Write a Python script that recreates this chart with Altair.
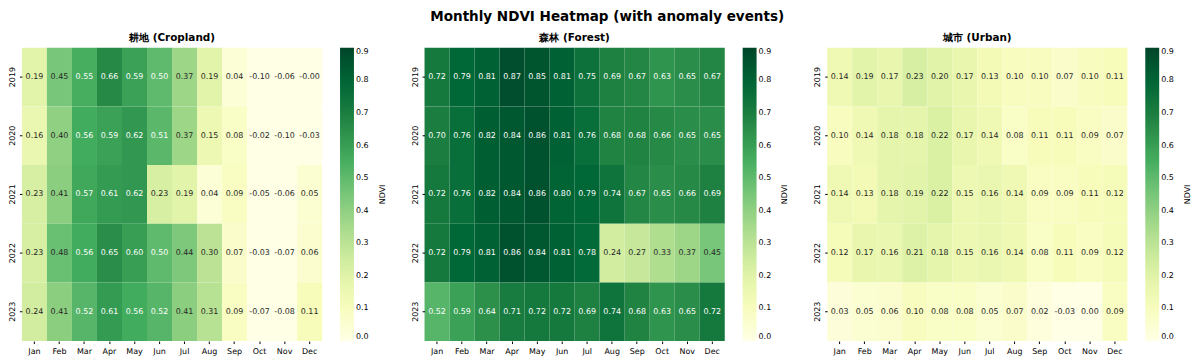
import altair as alt
import pandas as pd

months = ["Jan", "Feb", "Mar", "Apr", "May", "Jun", "Jul", "Aug", "Sep", "Oct", "Nov", "Dec"]
years = ["2019", "2020", "2021", "2022", "2023"]

cropland = [
    [0.19, 0.45, 0.55, 0.66, 0.59, 0.50, 0.37, 0.19, 0.04, -0.10, -0.06, -0.00],
    [0.16, 0.40, 0.56, 0.59, 0.62, 0.51, 0.37, 0.15, 0.08, -0.02, -0.10, -0.03],
    [0.23, 0.41, 0.57, 0.61, 0.62, 0.23, 0.19, 0.04, 0.09, -0.05, -0.06, 0.05],
    [0.23, 0.48, 0.56, 0.65, 0.60, 0.50, 0.44, 0.30, 0.07, -0.03, -0.07, 0.06],
    [0.24, 0.41, 0.52, 0.61, 0.56, 0.52, 0.41, 0.31, 0.09, -0.07, -0.08, 0.11],
]
forest = [
    [0.72, 0.79, 0.81, 0.87, 0.85, 0.81, 0.75, 0.69, 0.67, 0.63, 0.65, 0.67],
    [0.70, 0.76, 0.82, 0.84, 0.86, 0.81, 0.76, 0.68, 0.68, 0.66, 0.65, 0.65],
    [0.72, 0.76, 0.82, 0.84, 0.86, 0.80, 0.79, 0.74, 0.67, 0.65, 0.66, 0.69],
    [0.72, 0.79, 0.81, 0.86, 0.84, 0.81, 0.78, 0.24, 0.27, 0.33, 0.37, 0.45],
    [0.52, 0.59, 0.64, 0.71, 0.72, 0.72, 0.69, 0.74, 0.68, 0.63, 0.65, 0.72],
]
urban = [
    [0.14, 0.19, 0.17, 0.23, 0.20, 0.17, 0.13, 0.10, 0.10, 0.07, 0.10, 0.11],
    [0.10, 0.14, 0.18, 0.18, 0.22, 0.17, 0.14, 0.08, 0.11, 0.11, 0.09, 0.07],
    [0.14, 0.13, 0.18, 0.19, 0.22, 0.15, 0.16, 0.14, 0.09, 0.09, 0.11, 0.12],
    [0.12, 0.17, 0.16, 0.21, 0.18, 0.15, 0.16, 0.14, 0.08, 0.11, 0.09, 0.12],
    [0.03, 0.05, 0.06, 0.10, 0.08, 0.08, 0.05, 0.07, 0.02, -0.03, 0.00, 0.09],
]
titles = ["耕地 (Cropland)", "森林 (Forest)", "城市 (Urban)"]
legend_ticks = [0.0, 0.1, 0.2, 0.3, 0.4, 0.5, 0.6, 0.7, 0.8, 0.9]

# matplotlib YlGn colormap stops over the colour range 0..0.9
ylgn = ["#ffffe5", "#f7fcb9", "#d9f0a3", "#addd8e", "#78c679",
        "#41ab5d", "#238443", "#006837", "#004529"]
vmin, vmax = 0.0, 0.9
stops = [vmin + (vmax - vmin) * i / (len(ylgn) - 1) for i in range(len(ylgn))]

FONT = "DejaVu Sans"
W, H = 302, 295


def panel(values, title):
    rows = []
    for y, row in zip(years, values):
        for m, v in zip(months, row):
            rows.append({"year": y, "month": m, "ndvi": v, "label": f"{v:.2f}"})
    df = pd.DataFrame(rows)
    base = alt.Chart(df).encode(
        x=alt.X("month:N", sort=months, title=None, axis=alt.Axis(labelAngle=0, labelPadding=4)),
        y=alt.Y("year:N", sort=years, title=None, axis=alt.Axis(labelAngle=270, labelPadding=3)),
    )
    rect = base.mark_rect().encode(
        color=alt.Color(
            "ndvi:Q",
            scale=alt.Scale(domain=stops, range=ylgn, clamp=True, interpolate="rgb"),
            legend=alt.Legend(title=None, values=legend_ticks, format=".1f"),
        )
    )
    text = base.mark_text(fontSize=8, font=FONT).encode(
        text="label:N",
        color=alt.condition("datum.ndvi >= 0.495", alt.value("white"), alt.value("#262626")),
    )
    cbar_label = (
        alt.Chart(pd.DataFrame({"t": ["NDVI"]}))
        .mark_text(angle=270, fontSize=8, font=FONT, color="black", baseline="middle", align="center")
        .encode(text="t:N", x=alt.value(W + 61), y=alt.value(H / 2))
    )
    return alt.layer(rect, text, cbar_label).properties(
        width=W,
        height=H,
        title=alt.TitleParams(title, fontSize=10.5, fontWeight="bold", offset=4, font=FONT),
    )


chart = (
    alt.hconcat(*[panel(v, t) for v, t in zip([cropland, forest, urban], titles)], spacing=24)
    .resolve_scale(color="independent")
    .properties(
        padding=0,
        title=alt.TitleParams(
            "Monthly NDVI Heatmap (with anomaly events)",
            fontSize=13.6,
            fontWeight="bold",
            anchor="middle",
            font=FONT,
            offset=10,
            dx=7,
        ),
    )
    .configure_view(stroke=None)
    .configure_axis(
        labelFont=FONT,
        labelFontSize=8,
        labelColor="black",
        tickColor="black",
        tickSize=2.5,
        domain=False,
    )
    .configure_legend(
        gradientLength=H,
        gradientThickness=14,
        gradientStrokeWidth=0,
        labelFont=FONT,
        labelFontSize=8,
        labelColor="black",
        offset=18,
        labelOffset=8,
    )
)

chart.save("out.html", embed_options={"renderer": "svg", "actions": False})
